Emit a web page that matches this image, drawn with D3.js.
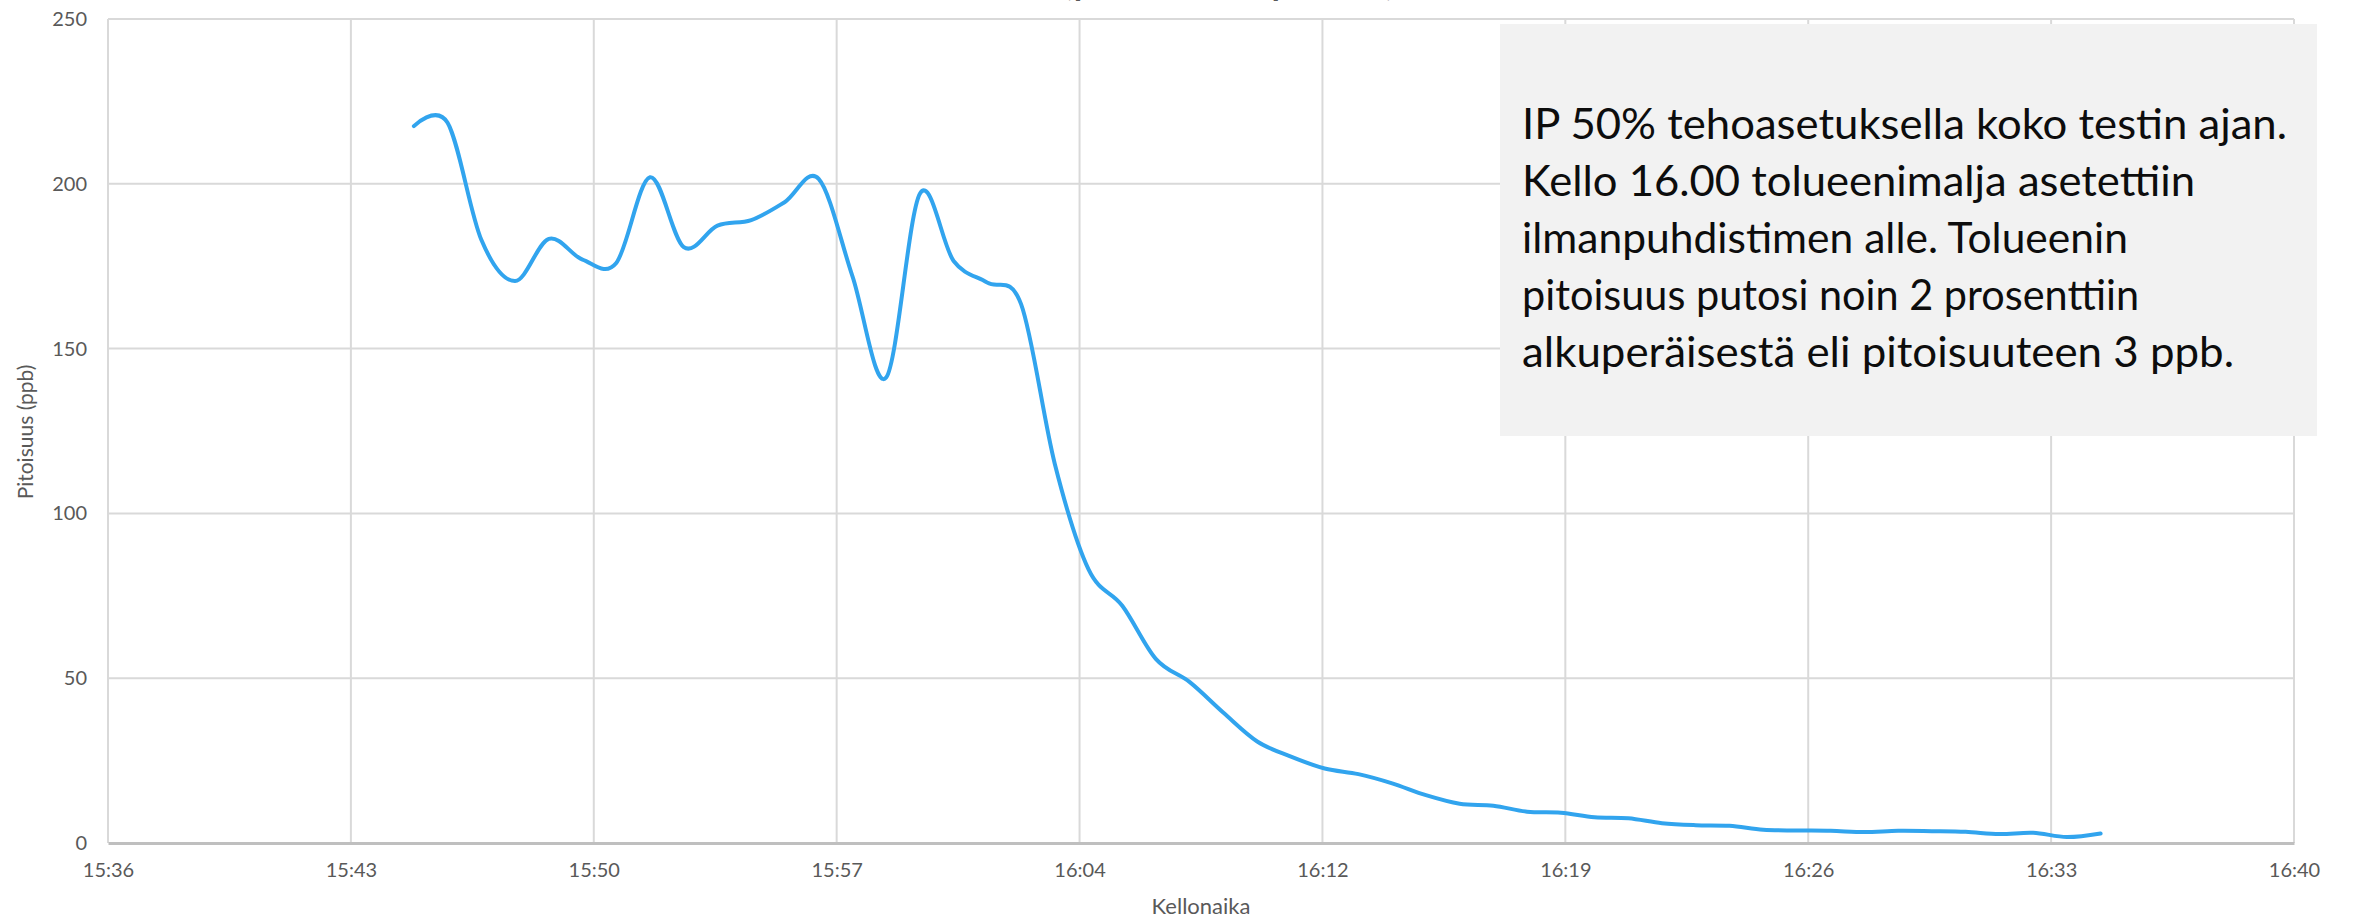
<!DOCTYPE html>
<html>
<head>
<meta charset="utf-8">
<script src="https://cdn.jsdelivr.net/npm/d3@7/dist/d3.min.js"></script>
<style>
  html, body { margin: 0; padding: 0; background: #ffffff; }
  svg { display: block; }
  text { font-family: Lato, "Noto Sans", sans-serif; }
</style>
</head>
<body>
<svg id="chart" width="2356" height="920"></svg>
<script>
// Toluene concentration, one reading per minute (time of day, ppb)
const sampleTimes = [
  "15:45:04","15:46:04","15:47:04","15:48:04","15:49:04","15:50:04","15:51:04","15:52:04",
  "15:53:04","15:54:04","15:55:04","15:56:04","15:57:04","15:58:04","15:59:04","16:00:04",
  "16:01:04","16:02:04","16:03:04","16:04:04","16:05:04","16:06:04","16:07:04","16:08:04",
  "16:09:04","16:10:04","16:11:04","16:12:04","16:13:04","16:14:04","16:15:04","16:16:04",
  "16:17:04","16:18:04","16:19:04","16:20:04","16:21:04","16:22:04","16:23:04","16:24:04",
  "16:25:04","16:26:04","16:27:04","16:28:04","16:29:04","16:30:04","16:31:04","16:32:04",
  "16:33:04","16:34:04","16:35:04"
];
const tolueneValues = [
  217.5, 218.5, 183.0, 170.5, 183.3, 177.0, 176.0, 202.0,
  180.8, 187.3, 189.0, 194.5, 201.5, 172.0, 141.2, 197.0,
  176.6, 170.0, 163.5, 115.0, 83.0, 72.0, 55.8, 48.8,
  39.5, 30.8, 26.2, 22.6, 20.9, 18.1, 14.5, 11.9,
  11.3, 9.5, 9.2, 7.8, 7.5, 6.0, 5.4, 5.2,
  4.0, 3.8, 3.7, 3.3, 3.7, 3.6, 3.4, 2.7,
  3.1, 1.8, 2.9
];

// Axis ticks: the time axis runs in steps of 0.005 day (7.2 min)
const xTickTimes = ["15:36:00","15:43:12","15:50:24","15:57:36","16:04:48","16:12:00","16:19:12","16:26:24","16:33:36","16:40:48"];
const xTickLabels = ["15:36","15:43","15:50","15:57","16:04","16:12","16:19","16:26","16:33","16:40"];
const yTickValues = [0, 50, 100, 150, 200, 250];

const titleText = "(puhdistin päällä)";
const xAxisTitle = "Kellonaika";
const yAxisTitle = "Pitoisuus (ppb)";
const noteLines = [
  "IP 50% tehoasetuksella koko testin ajan.",
  "Kello 16.00 tolueenimalja asetettiin",
  "ilmanpuhdistimen alle. Tolueenin",
  "pitoisuus putosi noin 2 prosenttiin",
  "alkuperäisestä eli pitoisuuteen 3 ppb."
];

const parseTime = d3.timeParse("%H:%M:%S");
const data = sampleTimes.map((t, i) => ({ time: parseTime(t), value: tolueneValues[i] }));
const xTicks = xTickTimes.map(parseTime);

const svg = d3.select("#chart");
const plot = { left: 108, right: 2294, top: 19, bottom: 843 };

const x = d3.scaleTime()
  .domain([xTicks[0], xTicks[xTicks.length - 1]])
  .range([plot.left, plot.right]);
const y = d3.scaleLinear()
  .domain([0, 250])
  .range([plot.bottom, plot.top]);

const labelColor = "#595959";
const gridColor = "#d9d9d9";

// Chart title (sits above the top edge of the canvas)
svg.append("text")
  .attr("x", 1229).attr("y", -4)
  .attr("text-anchor", "middle")
  .attr("font-size", 30)
  .attr("fill", labelColor)
  .attr("textLength", 336)
  .attr("lengthAdjust", "spacingAndGlyphs")
  .text(titleText);

// Horizontal gridlines
svg.append("g")
  .selectAll("line")
  .data(yTickValues.filter(v => v > 0))
  .join("line")
  .attr("x1", plot.left).attr("x2", plot.right)
  .attr("y1", d => y(d)).attr("y2", d => y(d))
  .attr("stroke", gridColor).attr("stroke-width", 2);

// Vertical gridlines
svg.append("g")
  .selectAll("line")
  .data(xTicks)
  .join("line")
  .attr("x1", d => x(d)).attr("x2", d => x(d))
  .attr("y1", plot.top).attr("y2", plot.bottom)
  .attr("stroke", gridColor).attr("stroke-width", 2);

// Bottom axis
const xAxis = d3.axisBottom(x)
  .tickValues(xTicks)
  .tickFormat((d, i) => xTickLabels[i])
  .tickSize(0)
  .tickPadding(20);
const gx = svg.append("g")
  .attr("transform", `translate(0,${plot.bottom})`)
  .call(xAxis);
gx.select(".domain").attr("stroke", "#bfbfbf").attr("stroke-width", 3);
gx.selectAll("text")
  .attr("font-size", 20)
  .attr("fill", labelColor)
  .attr("font-family", "Lato, 'Noto Sans', sans-serif");

// Left axis labels
const yAxis = d3.axisLeft(y)
  .tickValues(yTickValues)
  .tickSize(0)
  .tickPadding(21);
const gy = svg.append("g")
  .attr("transform", `translate(${plot.left},0)`)
  .call(yAxis);
gy.select(".domain").remove();
gy.selectAll("text")
  .attr("font-size", 20)
  .attr("fill", labelColor)
  .attr("font-family", "Lato, 'Noto Sans', sans-serif");

// Axis titles
svg.append("text")
  .attr("x", (plot.left + plot.right) / 2).attr("y", 914)
  .attr("text-anchor", "middle")
  .attr("font-size", 22)
  .attr("fill", labelColor)
  .text(xAxisTitle);

svg.append("text")
  .attr("transform", `translate(33,${(plot.top + plot.bottom) / 2 + 1}) rotate(-90)`)
  .attr("text-anchor", "middle")
  .attr("font-size", 21)
  .attr("fill", labelColor)
  .text(yAxisTitle);

// Concentration line (smoothed)
const line = d3.line()
  .x(d => x(d.time))
  .y(d => y(d.value))
  .curve(d3.curveCatmullRom.alpha(0));

svg.append("path")
  .datum(data)
  .attr("d", line)
  .attr("fill", "none")
  .attr("stroke", "#31a4ee")
  .attr("stroke-width", 4)
  .attr("stroke-linejoin", "round")
  .attr("stroke-linecap", "round");

// Note box
const note = svg.append("g");
note.append("rect")
  .attr("x", 1500).attr("y", 24)
  .attr("width", 817).attr("height", 412)
  .attr("fill", "#f2f2f2");

const noteWidths = [765, 673, 606, 617, 712];
note.selectAll("text")
  .data(noteLines)
  .join("text")
  .attr("x", 1522)
  .attr("y", (d, i) => 139 + i * 57)
  .attr("font-size", 42)
  .attr("fill", "#0d0d0d")
  .attr("textLength", (d, i) => noteWidths[i])
  .attr("lengthAdjust", "spacingAndGlyphs")
  .text(d => d);
</script>
</body>
</html>
